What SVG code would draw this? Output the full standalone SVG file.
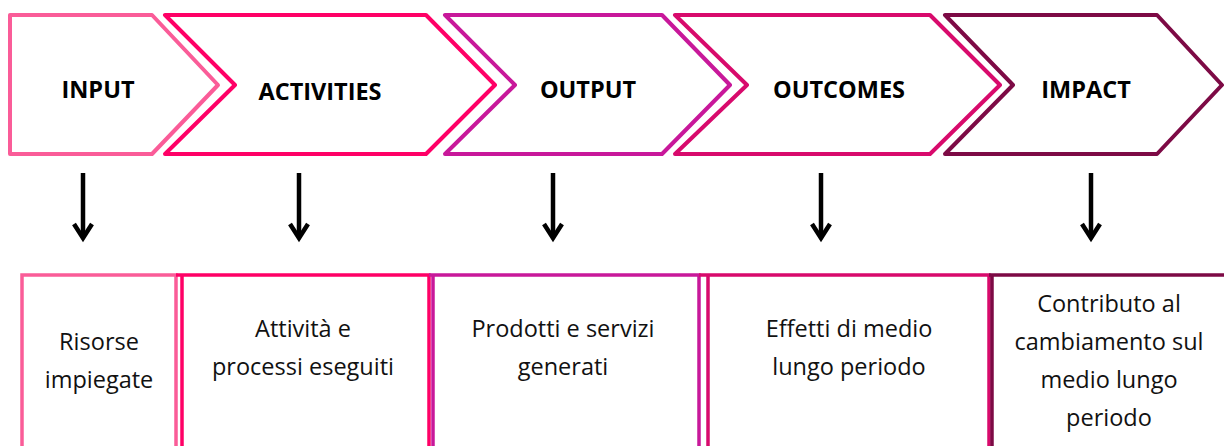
<svg xmlns="http://www.w3.org/2000/svg" width="1224" height="446" viewBox="0 0 1224 446">
  <style>
    .chev { fill: #ffffff; stroke-width: 4; stroke-linejoin: round; }
    .box { fill: none; stroke-width: 3.5; }
    .head { font-family: "Open Sans", "Lato", sans-serif; font-weight: 700; font-size: 23.5px; fill: #000; text-anchor: middle; }
    .body { font-family: "Open Sans", "Lato", sans-serif; font-size: 23.5px; fill: #111; text-anchor: middle; }
    .c1 { stroke: #fa5c98; }
    .c2 { stroke: #ff0066; }
    .c3 { stroke: #c8189a; }
    .c4 { stroke: #d80a6c; }
    .c5 { stroke: #7d0a45; }
    .arrow { fill: none; stroke: #000; stroke-width: 4.5; }
    .head-v { fill: none; stroke: #000; stroke-width: 4.5; stroke-linejoin: miter; }
  </style>

  <!-- stage chevrons -->
  <g id="input">
    <path class="chev c1" d="M10,15 L152,15 L218,85 L152,154 L10,154 Z"/>
    <text class="head" x="98" y="98">INPUT</text>
  </g>
  <g id="activities">
    <path class="chev c2" d="M165,15 L426,15 L495,85 L426,154 L165,154 L235,85 Z"/>
    <text class="head" x="320" y="100">ACTIVITIES</text>
  </g>
  <g id="output">
    <path class="chev c3" d="M445,15 L662,15 L730,85 L662,154 L445,154 L515,85 Z"/>
    <text class="head" x="588" y="98">OUTPUT</text>
  </g>
  <g id="outcomes">
    <path class="chev c4" d="M675,15 L930,15 L1000,85 L930,154 L675,154 L747,85 Z"/>
    <text class="head" x="839" y="98">OUTCOMES</text>
  </g>
  <g id="impact">
    <path class="chev c5" d="M945,15 L1157,15 L1222,85 L1157,154 L945,154 L1013,85 Z"/>
    <text class="head" x="1086" y="98">IMPACT</text>
  </g>

  <!-- downward arrows from each stage to its description -->
  <g id="connectors">
    <path class="arrow" d="M83,173 V237"/>
    <path class="head-v" d="M74,224 L83,238 L92,224"/>
    <path class="arrow" d="M299,173 V237"/>
    <path class="head-v" d="M290,224 L299,238 L308,224"/>
    <path class="arrow" d="M553,173 V237"/>
    <path class="head-v" d="M544,224 L553,238 L562,224"/>
    <path class="arrow" d="M821,173 V237"/>
    <path class="head-v" d="M812,224 L821,238 L830,224"/>
    <path class="arrow" d="M1091,173 V237"/>
    <path class="head-v" d="M1082,224 L1091,238 L1100,224"/>
  </g>

  <!-- description boxes (open at the bottom edge) -->
  <g id="box-input">
    <path class="box c1" d="M22,460 V275 H176 V460"/>
    <text class="body" x="99" y="350">Risorse</text>
    <text class="body" x="99" y="388">impiegate</text>
  </g>
  <g id="box-activities">
    <path class="box c2" d="M176,275 H182 M182,460 V275 H429 V460"/>
    <text class="body" x="303" y="337">Attività e</text>
    <text class="body" x="303" y="375">processi eseguiti</text>
  </g>
  <g id="box-output">
    <path class="box c3" d="M429,275 H433 M433,460 V275 H699 V460"/>
    <text class="body" x="563" y="337">Prodotti e servizi</text>
    <text class="body" x="563" y="375">generati</text>
  </g>
  <g id="box-outcomes">
    <path class="box c4" d="M699,275 H708 M708,460 V275 H989 V460"/>
    <text class="body" x="849" y="337">Effetti di medio</text>
    <text class="body" x="849" y="375">lungo periodo</text>
  </g>
  <g id="box-impact">
    <path class="box c5" d="M989,275 H992 M992,460 V275 H1230 V460"/>
    <text class="body" x="1109" y="312">Contributo al</text>
    <text class="body" x="1109" y="350">cambiamento sul</text>
    <text class="body" x="1109" y="388">medio lungo</text>
    <text class="body" x="1109" y="426">periodo</text>
  </g>
</svg>
